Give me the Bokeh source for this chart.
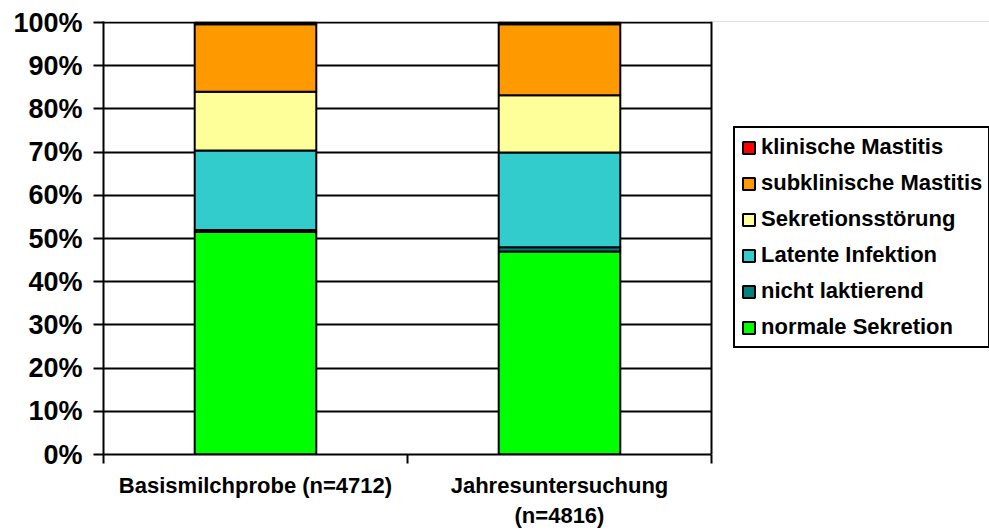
from bokeh.plotting import figure
from bokeh.models import (Range1d, FixedTicker, LinearAxis, Legend, LegendItem, Span)
from bokeh.embed import file_html
from bokeh.resources import INLINE

# Milk-sample classification shares (percent), per sampling
groups = ["Basismilchprobe (n=4712)", "Jahresuntersuchung\n(n=4816)"]
normale_sekretion = [51.5, 47.0]
nicht_laktierend = [0.5, 1.0]
latente_infektion = [18.4, 21.9]
sekretionsstoerung = [13.6, 13.3]
subklinische_mastitis = [15.6, 16.4]
klinische_mastitis = [0.4, 0.4]
y_ticks = [0, 10, 20, 30, 40, 50, 60, 70, 80, 90, 100]

series = [
    ("normale Sekretion", normale_sekretion, "#00FF00"),
    ("nicht laktierend", nicht_laktierend, "#008080"),
    ("Latente Infektion", latente_infektion, "#33CCCC"),
    ("Sekretionsstörung", sekretionsstoerung, "#FFFF99"),
    ("subklinische Mastitis", subklinische_mastitis, "#FF9900"),
    ("klinische Mastitis", klinische_mastitis, "#FF0000"),
]

FONT = "Liberation Sans"
N = len(groups)
# plot area spans 608 px for the categories; the remaining 278 px hold the legend
X_END = N * 886 / 608

p = figure(width=989, height=531, output_backend="svg", toolbar_location=None,
           x_range=Range1d(0, X_END), y_range=Range1d(0, 100.25),
           min_border_left=103, min_border_right=0, min_border_top=21,
           min_border_bottom=77, x_axis_type=None)
p.background_fill_color = "white"
p.border_fill_color = "white"
p.outline_line_color = None

p.ygrid.ticker = FixedTicker(ticks=y_ticks)
p.ygrid.grid_line_color = "black"
p.ygrid.grid_line_width = 2
p.ygrid.grid_line_alpha = 1
p.xgrid.grid_line_color = None

# blank the area right of the category axis (legend space)
p.quad(left=N, right=X_END + 1, bottom=-5, top=110, fill_color="white",
       line_color=None)
p.add_layout(Span(location=N, dimension="height", line_color="black",
                  line_width=2))

# stacked bars
xs = [i + 0.5 for i in range(N)]
data = {"x": xs}
for name, vals, _ in series:
    data[name] = vals
renderers = p.vbar_stack([s[0] for s in series], x="x", width=0.4, source=data,
                         color=[s[2] for s in series], line_color="black",
                         line_width=2)
for r, s in zip(renderers, series):
    r.glyph.fill_color = s[2]
    r.glyph.line_color = "black"

# y axis
yax = p.yaxis[0]
yax.ticker = FixedTicker(ticks=y_ticks)
yax.major_label_overrides = {t: f"{t}%" for t in y_ticks}
yax.major_label_text_font = FONT
yax.major_label_text_font_style = "bold"
yax.major_label_text_font_size = "27px"
yax.major_label_text_color = "black"
yax.axis_line_width = 2
yax.axis_line_color = "black"
yax.major_tick_line_width = 2
yax.major_tick_line_color = "black"
yax.major_tick_out = 10
yax.major_tick_in = 0
yax.minor_tick_line_color = None
yax.major_label_standoff = 11

# x axis: category labels centred, tick marks on the category boundaries
xl = LinearAxis(ticker=FixedTicker(ticks=xs, minor_ticks=list(range(N + 1))),
                bounds=(0, N))
xl.major_label_overrides = {x: g for x, g in zip(xs, groups)}
xl.major_label_text_font = FONT
xl.major_label_text_font_style = "bold"
xl.major_label_text_font_size = "22px"
xl.major_label_text_color = "black"
xl.axis_line_width = 2
xl.axis_line_color = "black"
xl.major_tick_line_color = None
xl.major_tick_out = 0
xl.major_tick_in = 0
xl.minor_tick_line_color = "black"
xl.minor_tick_line_width = 2
xl.minor_tick_out = 9
xl.minor_tick_in = 0
xl.major_label_standoff = 9
p.add_layout(xl, "below")

# legend, top series first
items = [LegendItem(label=s[0], renderers=[r]) for s, r in zip(series, renderers)]
items.reverse()
legend = Legend(items=items, location=(630, 106))
legend.label_text_font = FONT
legend.label_text_font_style = "bold"
legend.label_text_font_size = "22px"
legend.label_text_color = "black"
legend.glyph_width = 15
legend.glyph_height = 15
legend.label_standoff = 5
legend.label_height = 24
legend.spacing = 10
legend.padding = 6
legend.margin = 0
legend.border_line_color = "black"
legend.border_line_width = 2
legend.border_line_alpha = 1
legend.background_fill_color = "white"
legend.background_fill_alpha = 1
p.add_layout(legend, "center")

open("out.html", "w").write(file_html(p, INLINE))
